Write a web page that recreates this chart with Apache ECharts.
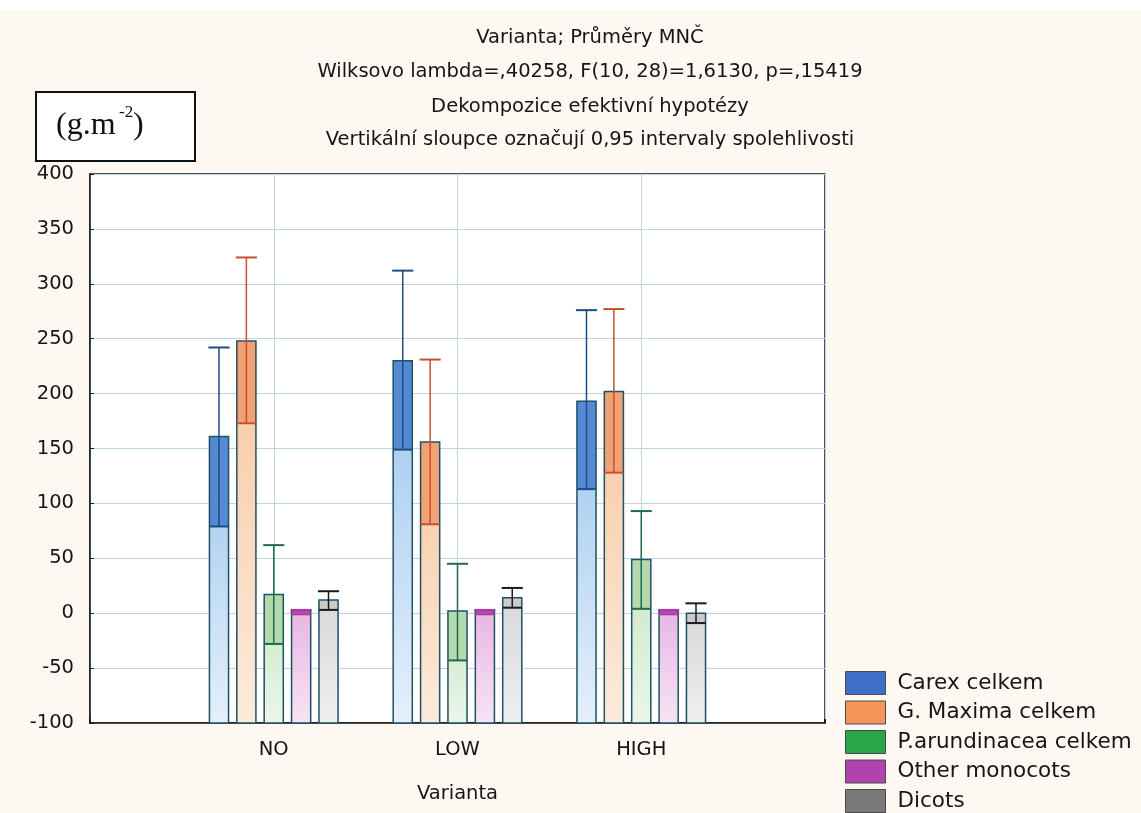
<!DOCTYPE html>
<html>
<head>
<meta charset="utf-8">
<script src="https://cdn.jsdelivr.net/npm/echarts@6/dist/echarts.min.js"></script>
<style>
  html, body { margin: 0; padding: 0; background: #fdf8f2; }
  #chart { width: 1141px; height: 813px; }
</style>
</head>
<body>
<div id="chart"></div>
<script>
// categories on the x axis (placed at 1, 2, 3)
var categories = ['NO', 'LOW', 'HIGH'];
var seriesNames = ['Carex celkem', 'G. Maxima celkem', 'P.arundinacea celkem', 'Other monocots', 'Dicots'];

// means and 0.95 confidence limits
var carexMean = [161, 230, 193];
var carexLow  = [79, 149, 113];
var carexHigh = [242, 312, 276];

var gmaxMean = [248, 156, 202];
var gmaxLow  = [173, 81, 128];
var gmaxHigh = [324, 231, 277];

var phalMean = [17, 2, 49];
var phalLow  = [-28, -43, 4];
var phalHigh = [62, 45, 93];

var otherMean = [2.5, 2.5, 2.5];
var otherLow  = [-1, -1, -1];
var otherHigh = [3, 3, 3];

var dicotMean = [12, 14, 0];
var dicotLow  = [3, 5, -9];
var dicotHigh = [20, 23, 9];

var yTicks = [-100, -50, 0, 50, 100, 150, 200, 250, 300, 350, 400];

var means = [carexMean, gmaxMean, phalMean, otherMean, dicotMean];
var lows = [carexLow, gmaxLow, phalLow, otherLow, dicotLow];
var highs = [carexHigh, gmaxHigh, phalHigh, otherHigh, dicotHigh];

// colours: legend, dark CI part, gradient top, gradient bottom, error line
var styles = [
  {legend: '#3d6fc6', ci: '#5589d4', top: '#9ec6ef', bottom: '#e4f0fb', err: '#1d4c80'},
  {legend: '#f5955a', ci: '#f1a274', top: '#f8c7a0', bottom: '#fdebdc', err: '#c9502c'},
  {legend: '#2aa64a', ci: '#b3d9ae', top: '#c8e6c4', bottom: '#ebf6ea', err: '#1f6b4a'},
  {legend: '#b043ae', ci: '#c04fb8', top: '#e8b6e3', bottom: '#f7e4f5', err: '#b03aa6'},
  {legend: '#7a7a7a', ci: '#cbcbcb', top: '#d8d8d8', bottom: '#efefef', err: '#1a1a1a'}
];

var chart = echarts.init(document.getElementById('chart'));

function makeRender(idx) {
  var st = styles[idx];
  return function (params, api) {
    var cx = api.value(0);
    var unit = api.size([1, 0])[0];
    var step = unit * 0.149;
    var bw = unit * 0.104;
    var center = api.coord([cx, 0])[0] + (idx - 2) * step;
    var x0 = center - bw / 2;
    var yBase = api.coord([cx, -100])[1];
    var yMean = api.coord([cx, api.value(1)])[1];
    var yLo = api.coord([cx, api.value(2)])[1];
    var yHi = api.coord([cx, api.value(3)])[1];
    var children = [];
    children.push({
      type: 'rect',
      shape: {x: x0, y: yMean, width: bw, height: yBase - yMean},
      style: {
        fill: new echarts.graphic.LinearGradient(0, 0, 0, 1, [
          {offset: 0, color: st.top},
          {offset: 1, color: st.bottom}
        ])
      }
    });
    if (yLo > yMean) {
      children.push({
        type: 'rect',
        shape: {x: x0, y: yMean, width: bw, height: yLo - yMean},
        style: {fill: st.ci}
      });
    }
    children.push({
      type: 'rect',
      shape: {x: x0, y: yMean, width: bw, height: yBase - yMean},
      style: {fill: null, stroke: '#1f5264', lineWidth: 1.5}
    });
    children.push({
      type: 'line',
      shape: {x1: center, y1: yLo, x2: center, y2: yHi},
      style: {stroke: st.err, lineWidth: 1.5}
    });
    children.push({
      type: 'line',
      shape: {x1: center - bw / 2 - 1, y1: yHi, x2: center + bw / 2 + 1, y2: yHi},
      style: {stroke: st.err, lineWidth: 2}
    });
    children.push({
      type: 'line',
      shape: {x1: x0, y1: yLo, x2: x0 + bw, y2: yLo},
      style: {stroke: st.err, lineWidth: 2}
    });
    return {type: 'group', children: children};
  };
}

var series = [];
for (var s = 0; s < seriesNames.length; s++) {
  var data = [];
  for (var c = 0; c < categories.length; c++) {
    data.push([c + 1, means[s][c], lows[s][c], highs[s][c]]);
  }
  series.push({
    name: seriesNames[s],
    type: 'custom',
    renderItem: makeRender(s),
    itemStyle: {color: styles[s].legend},
    encode: {x: 0, y: [1, 2, 3]},
    data: data,
    z: 3
  });
}

var titleLines = [
  'Varianta; Průměry MNČ',
  'Wilksovo lambda=,40258, F(10, 28)=1,6130, p=,15419',
  'Dekompozice efektivní hypotézy',
  'Vertikální sloupce označují 0,95 intervaly spolehlivosti'
];

var graphics = [
  {type: 'rect', left: 0, top: 0, shape: {width: 1141, height: 10}, style: {fill: '#ffffff'}, z: -10},
  {type: 'rect', shape: {x: 36, y: 92, width: 159, height: 69}, style: {fill: '#ffffff', stroke: '#111', lineWidth: 2}},
  {type: 'text', x: 56, y: 126, style: {text: '(g.m', font: '32px "Liberation Serif"', fill: '#111', textVerticalAlign: 'middle'}},
  {type: 'text', x: 119, y: 113, style: {text: '-2', font: '17px "Liberation Serif"', fill: '#111', textVerticalAlign: 'middle'}},
  {type: 'text', x: 133, y: 126, style: {text: ')', font: '32px "Liberation Serif"', fill: '#111', textVerticalAlign: 'middle'}}
];
var titleY = [38, 72, 107, 140];
for (var t = 0; t < titleLines.length; t++) {
  graphics.push({
    type: 'text', x: 590, y: titleY[t],
    style: {text: titleLines[t], font: '19.5px "DejaVu Sans"', fill: '#151515', textAlign: 'center', textVerticalAlign: 'middle'}
  });
}

var option = {
  backgroundColor: '#fdf8f2',
  animation: false,
  graphic: graphics,
  legend: {
    data: seriesNames,
    orient: 'vertical',
    left: 845,
    top: 671,
    padding: 0,
    icon: 'rect',
    itemWidth: 40,
    itemHeight: 23,
    itemGap: 5.5,
    itemStyle: {borderColor: '#4a4a4a', borderWidth: 1},
    textStyle: {fontFamily: 'DejaVu Sans', fontSize: 21.5, color: '#151515', padding: [0, 0, 0, 7]}
  },
  grid: {
    left: 90, top: 174, right: 316, bottom: 90,
    show: true,
    backgroundColor: '#ffffff',
    borderColor: '#1a1a1a',
    borderWidth: 1.5
  },
  xAxis: {
    type: 'value',
    min: 0,
    max: 4,
    interval: 1,
    name: 'Varianta',
    nameLocation: 'middle',
    nameGap: 61,
    nameTextStyle: {fontFamily: 'DejaVu Sans', fontSize: 19.5, color: '#151515'},
    axisLine: {show: true, onZero: false, lineStyle: {color: '#1a1a1a', width: 1.5}},
    axisTick: {show: true, inside: true, length: 4, lineStyle: {color: '#1a1a1a', width: 2}},
    axisLabel: {
      margin: 17,
      fontFamily: 'DejaVu Sans', fontSize: 19.5, color: '#151515',
      formatter: function (v) { return categories[v - 1] || ''; }
    },
    splitLine: {show: true, lineStyle: {color: '#bcd5ec', width: 1}}
  },
  yAxis: {
    type: 'value',
    min: yTicks[0],
    max: yTicks[yTicks.length - 1],
    interval: 50,
    axisLine: {show: true, onZero: false, lineStyle: {color: '#1a1a1a', width: 1.5}},
    axisTick: {show: true, inside: true, length: 4, lineStyle: {color: '#1a1a1a'}},
    axisLabel: {margin: 16, fontFamily: 'DejaVu Sans', fontSize: 19.5, color: '#151515'},
    splitLine: {show: true, lineStyle: {color: '#bcd5ec', width: 1}}
  },
  series: series
};

chart.setOption(option);
</script>
</body>
</html>
